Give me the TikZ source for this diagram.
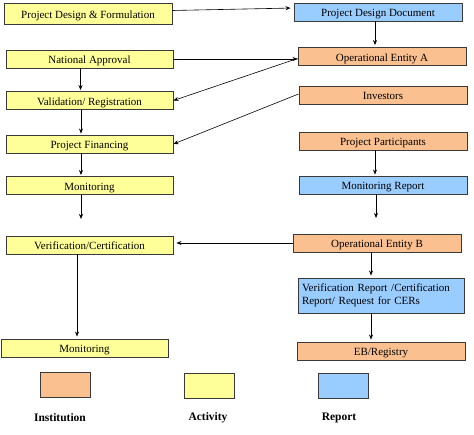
\documentclass[tikz,border=0pt]{standalone}
\usepackage{fontspec}
\setmainfont{Liberation Serif}
\usetikzlibrary{arrows.meta}
\definecolor{actyellow}{HTML}{FFFF99}
\definecolor{instorange}{HTML}{FAC090}
\definecolor{repblue}{HTML}{99CCFF}
\definecolor{edge}{HTML}{3A3A3A}
\begin{document}
\begin{tikzpicture}[x=1pt,y=-1pt,
  boxbase/.style={draw=edge,line width=0.9pt,inner sep=1pt,font=\fontsize{11}{13}\selectfont,minimum height=18pt},
  box/.style={boxbase,text height=10pt,text depth=0pt},
  act/.style={box,fill=actyellow},
  inst/.style={box,fill=instorange},
  rep/.style={box,fill=repblue},
  arr/.style={draw=black,line width=0.6pt,-{Stealth[length=5pt,width=4pt]}},
  legbox/.style={draw=edge,line width=0.9pt,minimum width=50pt,minimum height=25pt,inner sep=0pt},
  leglabel/.style={font=\fontsize{11.5}{13}\selectfont\bfseries}
]
\useasboundingbox (0,0) rectangle (474,435);
% left column (activities)
\node[act,minimum width=168pt,minimum height=21pt] (pdf) at (88,13.5) {Project Design \& Formulation};
\node[act,minimum width=167pt] (na)  at (89.5,59) {National Approval};
\node[act,minimum width=167pt] (vr)  at (89.5,100.5) {Validation/ Registration};
\node[act,minimum width=167pt] (pf)  at (89.5,144) {Project Financing};
\node[act,minimum width=167pt] (mon) at (89.5,185.5) {Monitoring};
\node[act,minimum width=167pt] (vc)  at (89.5,245) {Verification/Certification};
\node[act,minimum width=167pt] (mon2) at (84.5,348) {Monitoring};
% right column
\node[rep,minimum width=168pt] (pdd) at (378,12) {Project Design Document};
\node[inst,minimum width=168pt] (oea) at (382,56.5) {Operational Entity A};
\node[inst,minimum width=168pt] (inv) at (383,95) {Investors};
\node[inst,minimum width=168pt] (pp)  at (383,141) {Project Participants};
\node[rep,minimum width=168pt] (mr)  at (383,185) {Monitoring Report};
\node[inst,minimum width=168pt] (oeb) at (377,243) {Operational Entity B};
\node[boxbase,fill=repblue,minimum width=166pt,minimum height=35pt,align=left,text width=158pt,inner xsep=4pt] (vrep) at (381,295.5) {Verification Report /Certification\\Report/ Request for CERs};
\node[inst,minimum width=168pt] (eb)  at (381,351) {EB/Registry};
% free ends
\coordinate (monend) at (81,219);
\coordinate (mrend) at (376,218);
% connectors
\draw[arr,shorten >=3pt] ([yshift=3pt]pdf.east) -- ([yshift=4pt]pdd.west);
\draw[arr,shorten >=2pt] ([xshift=-3pt]pdd.south) -- ([xshift=-3pt]pdd.south |- oea.north);
\draw[arr] (na.east) -- (na.east -| oea.west);
\draw[arr] ([yshift=-2pt]oea.west) -- (vr.east);
\draw[arr] ([yshift=1pt]inv.west) -- (pf.east);
\draw[arr,shorten >=1pt] ([xshift=-9pt]na.south) -- ([xshift=-9pt]na.south |- vr.north);
\draw[arr,shorten >=1pt] ([xshift=-8.5pt]vr.south) -- ([xshift=-8.5pt]vr.south |- pf.north);
\draw[arr,shorten >=1pt] ([xshift=-8.5pt]pf.south) -- ([xshift=-8.5pt]pf.south |- mon.north);
\draw[arr] (mon.south -| monend) -- (monend);
\draw[arr,shorten >=2pt] (vc.south -| 77,0) -- (mon2.north -| 77,0);
\draw[arr,shorten >=1pt] (pp.south -| 375,0) -- (mr.north -| 375,0);
\draw[arr] (mr.south -| mrend) -- (mrend);
\draw[arr,shorten >=3pt] (oeb.west) -- (oeb.west -| vc.east);
\draw[arr,shorten >=2pt] (oeb.south -| 371,0) -- (vrep.north -| 371,0);
\draw[arr,shorten >=2pt] (vrep.south -| 371,0) -- (eb.north -| 371,0);
% legend
\node[legbox,fill=instorange] (lgi) at (65,384.5) {};
\node[legbox,fill=actyellow] (lga) at (209.5,385.5) {};
\node[legbox,fill=repblue] (lgr) at (343.5,385.5) {};
\node[leglabel] (lti) at (60,418) {Institution};
\node[leglabel] (lta) at (208,418) {Activity};
\node[leglabel] (ltr) at (339,418) {Report};
\end{tikzpicture}
\end{document}
